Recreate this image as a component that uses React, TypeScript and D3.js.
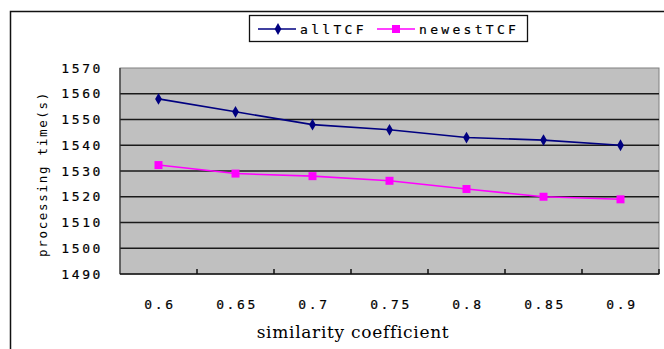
import { useEffect, useRef } from 'react';
import * as d3 from 'd3';

const categories = ['0.6', '0.65', '0.7', '0.75', '0.8', '0.85', '0.9'];
const allTCF = [1558, 1553, 1548, 1546, 1543, 1542, 1540];
const newestTCF = [1532.3, 1529, 1528, 1526.2, 1523, 1520, 1519];
const yTicks = [1490, 1500, 1510, 1520, 1530, 1540, 1550, 1560, 1570];
const seriesNames = ['allTCF', 'newestTCF'];

const W = 664;
const H = 349;
const plot = { left: 120, right: 659, top: 68, bottom: 274 };
const mono = "'DejaVu Sans Mono', 'Liberation Mono', monospace";
const serif = "'DejaVu Serif'";

export default function App() {
  const svgRef = useRef<SVGSVGElement | null>(null);

  useEffect(() => {
    const svg = d3.select(svgRef.current);
    svg.selectAll('*').remove();

    // outer chart border (runs off right/bottom edges)
    svg.append('rect')
      .attr('x', 10.5).attr('y', 11.5).attr('width', 700).attr('height', 400)
      .attr('fill', '#fff').attr('stroke', '#111').attr('stroke-width', 1.5);

    const x = d3.scaleBand().domain(categories).range([plot.left, plot.right]);
    const y = d3.scaleLinear().domain([1490, 1570]).range([plot.bottom, plot.top]);

    svg.append('rect')
      .attr('x', plot.left).attr('y', plot.top)
      .attr('width', plot.right - plot.left).attr('height', plot.bottom - plot.top)
      .attr('fill', '#c0c0c0').attr('stroke', '#808080').attr('stroke-width', 1);

    // gridlines
    svg.append('g').selectAll('line')
      .data(yTicks.filter(t => t > 1490 && t < 1570))
      .enter().append('line')
      .attr('x1', plot.left).attr('x2', plot.right)
      .attr('y1', d => y(d)).attr('y2', d => y(d))
      .attr('stroke', '#1a1a1a').attr('stroke-width', 1.5);

    // left axis line
    svg.append('line')
      .attr('x1', plot.left).attr('x2', plot.left)
      .attr('y1', plot.top).attr('y2', plot.bottom)
      .attr('stroke', '#333').attr('stroke-width', 1.2);

    // bottom axis + inner ticks at category boundaries
    svg.append('line')
      .attr('x1', plot.left).attr('x2', plot.right)
      .attr('y1', plot.bottom).attr('y2', plot.bottom)
      .attr('stroke', '#111').attr('stroke-width', 1.5);
    const bounds = categories.slice(1).map(c => x(c) as number).concat([plot.right]);
    svg.append('g').selectAll('line')
      .data(bounds)
      .enter().append('line')
      .attr('x1', d => d).attr('x2', d => d)
      .attr('y1', plot.bottom - 5).attr('y2', plot.bottom)
      .attr('stroke', '#111').attr('stroke-width', 1.5);

    // y tick labels
    svg.append('g').selectAll('text')
      .data(yTicks)
      .enter().append('text')
      .attr('x', 103).attr('y', d => y(d)).attr('dy', '0.35em')
      .attr('text-anchor', 'end')
      .style('font-family', mono).style('font-size', '13px').style('letter-spacing', '2.6px')
      .attr('fill', '#000').attr('stroke', '#000').attr('stroke-width', 0.2)
      .text(d => d);

    // x tick labels
    svg.append('g').selectAll('text')
      .data(categories)
      .enter().append('text')
      .attr('x', d => (x(d) as number) + x.bandwidth() / 2 + 1.5).attr('y', 309)
      .attr('text-anchor', 'middle')
      .style('font-family', mono).style('font-size', '13px').style('letter-spacing', '2.6px')
      .attr('fill', '#000').attr('stroke', '#000').attr('stroke-width', 0.2)
      .text(d => d);

    // axis titles
    svg.append('text')
      .attr('x', 353).attr('y', 338).attr('text-anchor', 'middle')
      .style('font-family', serif).style('font-size', '17px').style('letter-spacing', '0.7px')
      .attr('fill', '#000')
      .text('similarity coefficient');

    svg.append('text')
      .attr('transform', 'translate(47,174) rotate(-90)')
      .attr('text-anchor', 'middle')
      .style('font-family', mono).style('font-size', '12.5px').style('letter-spacing', '1.7px')
      .attr('fill', '#000')
      .text('processing time(s)');

    const line = d3.line<number>()
      .x((_, i) => (x(categories[i]) as number) + x.bandwidth() / 2)
      .y(d => y(d));

    // allTCF
    svg.append('path').datum(allTCF)
      .attr('d', line).attr('fill', 'none')
      .attr('stroke', '#000080').attr('stroke-width', 1.6);
    const diamond = d3.symbol().type(d3.symbolDiamond).size(40);
    svg.append('g').selectAll('path')
      .data(allTCF)
      .enter().append('path')
      .attr('d', diamond)
      .attr('transform', (d, i) => `translate(${(x(categories[i]) as number) + x.bandwidth() / 2},${y(d)})`)
      .attr('fill', '#000080');

    // newestTCF
    svg.append('path').datum(newestTCF)
      .attr('d', line).attr('fill', 'none')
      .attr('stroke', '#ff00ff').attr('stroke-width', 1.6);
    svg.append('g').selectAll('rect')
      .data(newestTCF)
      .enter().append('rect')
      .attr('x', (d, i) => (x(categories[i]) as number) + x.bandwidth() / 2 - 4)
      .attr('y', d => y(d) - 4)
      .attr('width', 8).attr('height', 8)
      .attr('fill', '#ff00ff');

    // legend
    const lg = svg.append('g');
    lg.append('rect')
      .attr('x', 249.5).attr('y', 15.5).attr('width', 278).attr('height', 26)
      .attr('fill', '#fff').attr('stroke', '#111').attr('stroke-width', 1.3);
    const legendX = [258, 377];
    const colors = ['#000080', '#ff00ff'];
    seriesNames.forEach((name, i) => {
      const lx = legendX[i];
      lg.append('line')
        .attr('x1', lx).attr('x2', lx + 38).attr('y1', 29).attr('y2', 29)
        .attr('stroke', colors[i]).attr('stroke-width', 1.6);
      if (i === 0) {
        lg.append('path').attr('d', diamond)
          .attr('transform', `translate(${lx + 20},29)`).attr('fill', colors[i]);
      } else {
        lg.append('rect').attr('x', lx + 15).attr('y', 25).attr('width', 8).attr('height', 8)
          .attr('fill', colors[i]);
      }
      lg.append('text')
        .attr('x', lx + 42).attr('y', 29).attr('dy', '0.35em')
        .style('font-family', mono).style('font-size', '13px').style('letter-spacing', '3.3px')
        .attr('fill', '#000').attr('stroke', '#000').attr('stroke-width', 0.2)
        .text(name);
    });
  }, []);

  return (
    <svg ref={svgRef} width={W} height={H}
      style={{ position: 'absolute', left: 0, top: 0, background: '#fff' }} />
  );
}
